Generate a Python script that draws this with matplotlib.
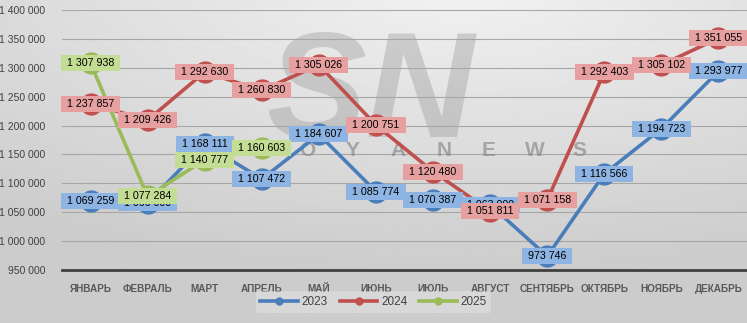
import numpy as np
import matplotlib.pyplot as plt
from matplotlib.lines import Line2D

plt.rcParams['font.family'] = ['Liberation Sans', 'DejaVu Sans']

months = ['ЯНВАРЬ', 'ФЕВРАЛЬ', 'МАРТ', 'АПРЕЛЬ', 'МАЙ', 'ИЮНЬ',
          'ИЮЛЬ', 'АВГУСТ', 'СЕНТЯБРЬ', 'ОКТЯБРЬ', 'НОЯБРЬ', 'ДЕКАБРЬ']
# Feb and Aug 2023 labels are hidden in the picture, values estimated
y2023 = [1069259, 1066000, 1168111, 1107472, 1184607, 1085774,
         1070387, 1063000, 973746, 1116566, 1194723, 1293977]
y2024 = [1237857, 1209426, 1292630, 1260830, 1305026, 1200751,
         1120480, 1051811, 1071158, 1292403, 1305102, 1351055]
y2025 = [1307938, 1077284, 1140777, 1160603]
years = ['2023', '2024', '2025']

line_colors = ['#4a7ebb', '#c0504d', '#9bbb59']
box_colors = ['#8db4e2', '#e6a0a0', '#c4dd95']


def fmt(v):
    return f"{v:,}".replace(',', ' ')


fig = plt.figure(figsize=(7.47, 3.23), dpi=100)

# gray gradient background
bg = fig.add_axes([0, 0, 1, 1], zorder=-10)
gx, gy = np.meshgrid(np.linspace(0, 1, 300), np.linspace(0, 1, 130))
d = np.sqrt(((gx - 0.62) / 1.1) ** 2 + ((gy - 1.05) / 1.0) ** 2)
shade = 0.95 - 0.15 * np.clip(d / 0.9, 0, 1)
bg.imshow(shade, cmap='gray', vmin=0, vmax=1, origin='lower',
          extent=[0, 1, 0, 1], aspect='auto')
bg.axis('off')

ax = fig.add_axes([0.083, 0.164, 0.917, 0.805])
ax.patch.set_alpha(0)

# watermark
ax.text(0.45, 0.66, 'SN', transform=ax.transAxes, fontsize=108,
        fontweight='bold', style='italic', color='#8c8c8c', alpha=0.33,
        ha='center', va='center', zorder=1)
for lx, ch in zip(np.linspace(0.292, 0.756, 8), 'SOYANEWS'):
    ax.text(lx, 0.46, ch, transform=ax.transAxes, fontsize=15,
            fontweight='bold', color='#808080', alpha=0.6, ha='center',
            va='center', zorder=2)

x = np.arange(len(months))
series = [y2023, y2024, y2025]
for i, vals in enumerate(series):
    xs = x[:len(vals)]
    ax.plot(xs, vals, color=line_colors[i], lw=2.6, marker='o', ms=15,
            zorder=3)

for i, vals in enumerate(series):
    for xi, v in zip(x, vals):
        ax.text(xi, v, f" {fmt(v)} ", ha='center', va='center', fontsize=7.7,
                color='black', zorder=5 + i,
                bbox=dict(boxstyle='square,pad=0.28', fc=box_colors[i],
                          ec='none'))

ax.set_xlim(-0.5, 11.5)
ax.set_ylim(950000, 1400000)
ax.set_yticks(np.arange(950000, 1400001, 50000))
ax.set_yticklabels([fmt(t) for t in np.arange(950000, 1400001, 50000)],
                   fontsize=7.5, color='#404040')
ax.set_xticks(x)
ax.set_xticklabels(months, fontsize=7.2, fontweight='bold', color='#595959')
ax.tick_params(axis='both', length=0)
ax.tick_params(axis='x', pad=10)
ax.tick_params(axis='y', pad=12)
ax.grid(axis='y', color='#a6a6a6', lw=0.8, zorder=0)
for s in ['top', 'right', 'left']:
    ax.spines[s].set_visible(False)
ax.spines['bottom'].set_color('#404040')
ax.spines['bottom'].set_linewidth(2)

handles = [Line2D([], [], color=c, lw=2.6, marker='o', ms=5) for c in line_colors]
leg = fig.legend(handles, years, loc='center', bbox_to_anchor=(0.5, 0.065),
                 ncol=3, fontsize=8.5, frameon=True, handlelength=3.2,
                 columnspacing=1.0, handletextpad=0.3, borderpad=0.4)
leg.get_frame().set_facecolor('#e4e4e4')
leg.get_frame().set_edgecolor('none')
leg.get_frame().set_alpha(0.5)
for t in leg.get_texts():
    t.set_color('#404040')

fig.savefig('out.png', dpi=100)
